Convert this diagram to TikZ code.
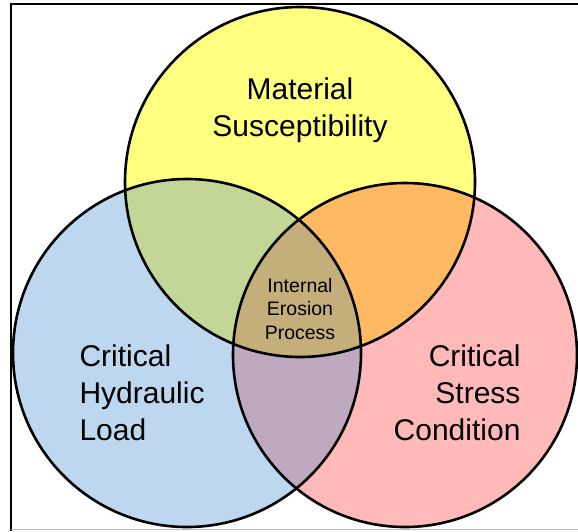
\documentclass[tikz,border=0pt]{standalone}
\usepackage{fontspec}
\setmainfont{Liberation Sans}
\definecolor{matyel}{RGB}{255,255,128}
\definecolor{hydblue}{RGB}{189,215,238}
\definecolor{strpink}{RGB}{255,185,185}
\definecolor{mixgreen}{RGB}{195,214,152}
\definecolor{mixorange}{RGB}{255,185,98}
\definecolor{mixpurple}{RGB}{191,169,192}
\definecolor{mixtan}{RGB}{196,174,122}
\def\circMat{(300,182) circle[radius=175pt]}
\def\circHyd{(187,353) circle[radius=174pt]}
\def\circStr{(405,355) circle[radius=172pt]}
\begin{document}
\begin{tikzpicture}[x=1pt,y=-1pt,
  ring/.style={draw=black,line width=2.6pt},
  bigtxt/.style={font=\fontsize{30}{37}\selectfont},
  smalltxt/.style={font=\fontsize{19.5}{23.5}\selectfont,align=center}]
\useasboundingbox (0,0) rectangle (578,531);
% frame
\draw[black,line width=1.2pt](11,531)--(11,4)--(578,4);
\draw[gray!50,line width=1.2pt](11,529.5)--(578,529.5);
% single circles
\fill[matyel] \circMat;
\fill[hydblue] \circHyd;
\fill[strpink] \circStr;
% pairs
\begin{scope}\clip \circMat; \fill[mixgreen] \circHyd; \end{scope}
\begin{scope}\clip \circMat; \fill[mixorange] \circStr; \end{scope}
\begin{scope}\clip \circHyd; \fill[mixpurple] \circStr; \end{scope}
% all three
\begin{scope}\clip \circMat; \clip \circHyd; \fill[mixtan] \circStr; \end{scope}
% outlines
\draw[ring] \circMat;
\draw[ring] \circHyd;
\draw[ring] \circStr;
% labels
\node[bigtxt,align=center] (mat) at (300,110) {Material\\Susceptibility};
\node[bigtxt,align=left,anchor=west] (hyd) at (76,393) {Critical\\Hydraulic\\Load};
\node[bigtxt,align=right,anchor=east] (str) at (524,393) {Critical\\Stress\\Condition};
\node[smalltxt] (ero) at (300,309) {Internal\\Erosion\\Process};
\end{tikzpicture}
\end{document}
